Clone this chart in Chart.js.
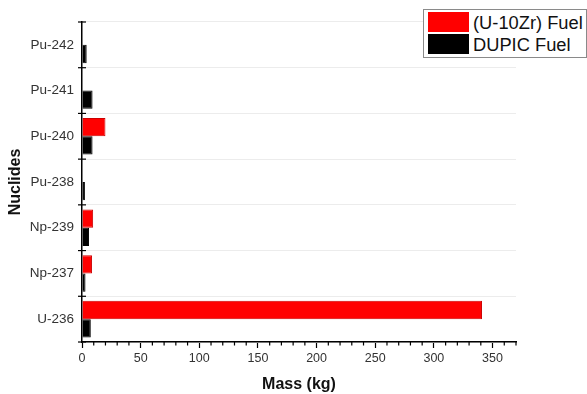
<!DOCTYPE html>
<html><head><meta charset="utf-8">
<script src="https://cdn.jsdelivr.net/npm/chart.js@4"></script>
<style>
html,body{margin:0;padding:0;background:#fff;}
#wrap{position:relative;width:587px;height:394px;}
#legend{position:absolute;left:423px;top:9px;width:162px;height:47px;border:1px solid #8a8a8a;background:#fff;font-family:"Liberation Sans",Arial,sans-serif;font-size:18.3px;color:#111;}
.item{position:absolute;left:4px;height:21px;line-height:21px;white-space:nowrap;}
.sw{display:inline-block;width:41px;height:20px;vertical-align:top;margin-right:4px;}
</style></head>
<body><div id="wrap"><canvas id="c" width="587" height="394"></canvas>
<div id="legend"></div></div>
<script>
const categories = ['Pu-242','Pu-241','Pu-240','Pu-238','Np-239','Np-237','U-236'];
const seriesNames = ['(U-10Zr) Fuel','DUPIC Fuel'];
const u10zr = [0, 0, 20, 0, 9.5, 8.5, 341];
const dupic = [4, 9, 9, 2.5, 6, 3, 7.5];
const xTicks = [0,50,100,150,200,250,300,350];
const colors = ['#ff0000','#000000'];

const lg = document.getElementById('legend');
seriesNames.forEach((n,i)=>{
  const d=document.createElement('div');d.className='item';d.style.top=(2+i*22)+'px';
  d.innerHTML='<span class="sw" style="background:'+colors[i]+'"></span>'+n;lg.appendChild(d);
});

const axisPlugin = {
  id:'axisTicks',
  afterDraw(chart){
    const ctx=chart.ctx, x=chart.scales.x, y=chart.scales.y;
    ctx.save();ctx.strokeStyle='#000';ctx.lineWidth=1.2;
    for(let v=0; v<=x.max; v+=10){
      if(xTicks.includes(v)) continue;
      const px=x.getPixelForValue(v);
      ctx.beginPath();ctx.moveTo(px,y.bottom);ctx.lineTo(px,y.bottom+3.5);ctx.stroke();
    }
    const n=categories.length;
    const step=y.getPixelForValue(1)-y.getPixelForValue(0);
    for(let i=0;i<=n;i++){
      const py=y.getPixelForValue(i)-step/2;
      ctx.beginPath();ctx.moveTo(x.left-4,py);ctx.lineTo(x.left+4,py);ctx.stroke();
    }
    ctx.restore();
  }
};

new Chart(document.getElementById('c'),{
  type:'bar',
  data:{labels:categories,datasets:[
    {label:seriesNames[0],data:u10zr,backgroundColor:colors[0],borderColor:'#cc0000',borderWidth:1,categoryPercentage:0.8,barPercentage:1},
    {label:seriesNames[1],data:dupic,backgroundColor:colors[1],borderColor:'#000',borderWidth:1,categoryPercentage:0.8,barPercentage:1}
  ]},
  options:{
    indexAxis:'y',responsive:false,animation:false,
    layout:{padding:{left:0,top:22,right:71,bottom:0}},
    plugins:{legend:{display:false},tooltip:{enabled:false}},
    scales:{
      x:{type:'linear',min:0,max:370,
        ticks:{stepSize:10,autoSkip:false,maxRotation:0,color:'#333',padding:3,
          font:{family:'"Liberation Sans", Arial, sans-serif',size:12.5},
          callback:(v)=>xTicks.includes(v)?String(v):''},
        grid:{drawOnChartArea:false,tickLength:6,tickWidth:1.2,
          tickColor:(c)=>c.tick&&xTicks.includes(c.tick.value)?'#000':'rgba(0,0,0,0)'},
        border:{color:'#000',width:1.5},
        title:{display:true,text:'Mass (kg)',color:'#111',padding:{top:5,bottom:0},
          font:{family:'"Liberation Sans", Arial, sans-serif',size:16,weight:'bold'}},
        afterFit:(s)=>{s.height=52;}
      },
      y:{
        ticks:{color:'#333',padding:8,font:{family:'"Liberation Sans", Arial, sans-serif',size:13.5}},
        grid:{offset:true,color:'#ececec',lineWidth:1,drawTicks:false},
        border:{color:'#000',width:1.5},
        title:{display:true,text:'Nuclides',color:'#111',padding:{top:6,bottom:0},
          font:{family:'"Liberation Sans", Arial, sans-serif',size:16,weight:'bold'}},
        afterFit:(s)=>{s.width=82;}
      }
    }
  },
  plugins:[axisPlugin]
});
</script></body></html>
